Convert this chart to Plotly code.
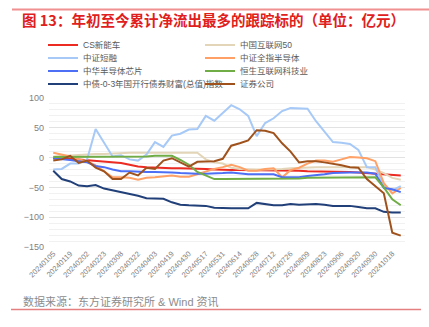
import plotly.graph_objects as go

# Weekly observation dates (every other one is labelled on the axis)
dates = [
    "20240105", "20240112", "20240119", "20240126", "20240202", "20240208",
    "20240223", "20240301", "20240308", "20240315", "20240322", "20240329",
    "20240403", "20240412", "20240419", "20240426", "20240430", "20240510",
    "20240517", "20240524", "20240531", "20240607", "20240614", "20240621",
    "20240628", "20240705", "20240712", "20240719", "20240726", "20240802",
    "20240809", "20240816", "20240823", "20240830", "20240906", "20240913",
    "20240920", "20240927", "20240930", "20241011", "20241018", "20241025",
]
tick_labels = dates[::2]

# Cumulative net flows since start of year (100 million CNY)
cs_new_energy_vehicle = [
    -1, -1, -2, -3, -4, -6, -7, -8, -9, -12, -15, -16, -17, -18,
    -18, -18, -18, -19, -19, -20, -21, -21, -21, -21, -21, -22, -22, -22,
    -22, -22, -23, -23, -23, -24, -24, -24, -25, -26, -27, -28, -29, -30,
]
china_internet_50 = [
    2, 3, 4, 5, 5, 6, 6, 7, 7, 8, 8, 8, 8, 8,
    8, 8, 8, 8, -3, -8, -10, -17, -19, -20, -20, -20, -20, -19,
    -18, -17, -16, -16, -16, -16, -15, -15, -15, -16, -20, -26, -34, -37,
]
csi_short_financing = [
    -20, -19, -10, -10, -3, 48, 25, 2, 4, -3, -5, 5, 26, 18,
    37, 40, 47, 48, 70, 62, 75, 88, 81, 70, 36, 58, 66, 78,
    83, 83, 82, 61, 44, 26, 25, 23, 13, -16, -16, -48, -55, -48,
]
csi_all_semiconductor = [
    8, 5, 2, -3, -6, -13, -23, -33, -33, -34, -37, -34, -33, -31,
    -30, -32, -32, -28, -23, -19, -16, -12, -16, -22, -22, -19, -18, -33,
    -21, -17, -10, -5, -5, -7, -3, 1, 0, -1, -6, -43, -60, -51,
]
china_semiconductor_chip = [
    -1, -2, -4, -6, -8, -14, -16, -20, -23, -23, -24, -24, -24, -24,
    -25, -26, -27, -27, -27, -27, -26, -25, -27, -28, -28, -28, -28, -33,
    -33, -33, -31, -30, -28, -26, -25, -25, -25, -25, -27, -51, -53, -58,
]
hs_internet_tech = [
    1, 1, 1, 1, 1, 1, 2, 2, 2, 2, 2, 2, 3, 3,
    3, -4, -12, -24, -30, -36, -36, -36, -36, -36, -36, -35, -35, -35,
    -35, -35, -34, -34, -34, -34, -34, -34, -33, -33, -33, -50, -70, -80,
]
cdb_bond_0_3y = [
    -22, -36, -40, -47, -48, -46, -52, -55, -58, -60, -64, -68, -69, -69,
    -75, -79, -80, -81, -81, -84, -85, -85, -85, -85, -76, -78, -80, -80,
    -78, -79, -78, -78, -79, -81, -81, -81, -83, -85, -85, -91, -92, -92,
]
securities_companies = [
    -5, -3, 3, -9, -5, -17, -23, -36, -36, -25, -30, -17, -19, -5,
    -1, -8, -15, -7, -6, -6, -2, 20, 24, 29, 46, 45, 41, 24,
    10, -8, -6, -6, -8, -10, -13, -16, -17, -36, -48, -60, -126, -131,
]

series = [
    ("CS新能车", cs_new_energy_vehicle, "#ec2b22", "legend"),
    ("中国互联网50", china_internet_50, "#e3d5b8", "legend"),
    ("中证短融", csi_short_financing, "#a6c9f7", "legend2"),
    ("中证全指半导体", csi_all_semiconductor, "#ffa066", "legend2"),
    ("中华半导体芯片", china_semiconductor_chip, "#4d6ff5", "legend3"),
    ("恒生互联网科技业", hs_internet_tech, "#70ad47", "legend3"),
    ("中债-0-3年国开行债券财富(总值)指数", cdb_bond_0_3y, "#213f78", "legend4"),
    ("证券公司", securities_companies, "#a0521d", "legend4"),
]

W, H = 429, 327
ML, MR, MT, MB = 49, 24, 98, 80
PW, PH = W - ML - MR, H - MT - MB

CJK = "Liberation Sans, Noto Sans CJK SC, sans-serif"


def px_x(x):
    return (x - ML) / PW


def px_y(y):
    return (H - MB - y) / PH


fig = go.Figure()
for name, values, color, leg in series:
    fig.add_trace(go.Scatter(
        x=dates, y=values, name=name, mode="lines",
        line=dict(color=color, width=2),
        legend=leg,
    ))

legend_common = dict(
    orientation="h", xref="container", yref="container",
    xanchor="left", yanchor="middle",
    bgcolor="rgba(0,0,0,0)", borderwidth=0,
    font=dict(family=CJK, size=8.5, color="#595959"),
    entrywidth=112, entrywidthmode="pixels", itemwidth=30,
    itemclick=False, itemdoubleclick=False,
)
row_y = [45, 58, 71, 84]
fig.update_layout(
    legend=dict(legend_common, x=43 / W, y=1 - row_y[0] / H),
    legend2=dict(legend_common, x=43 / W, y=1 - row_y[1] / H),
    legend3=dict(legend_common, x=43 / W, y=1 - row_y[2] / H),
    legend4=dict(legend_common, x=43 / W, y=1 - row_y[3] / H),
)

fig.update_layout(
    width=W, height=H,
    margin=dict(l=ML, r=MR, t=MT, b=MB, pad=0, autoexpand=False),
    paper_bgcolor="white", plot_bgcolor="white",
    font=dict(family=CJK, color="#7f7f7f"),
    title=dict(
        text="<b>图 13：年初至今累计净流出最多的跟踪标的（单位：亿元）</b>",
        xref="container", yref="container",
        x=22 / W, xanchor="left", y=1 - 21 / H, yanchor="middle",
        font=dict(family="Noto Sans CJK SC", size=14.5, color="#e0201c"),
    ),
    xaxis=dict(
        type="category", categoryorder="array", categoryarray=dates,
        range=[-0.5, len(dates) - 0.5],
        tickmode="array", tickvals=tick_labels, ticktext=tick_labels,
        tickangle=-45, tickfont=dict(size=7.5, color="#7f7f7f"),
        showgrid=False, showline=False, zeroline=False, ticks="",
        automargin=False,
    ),
    yaxis=dict(
        range=[-150, 100], tickvals=[100, 50, 0, -50, -100, -150],
        tickfont=dict(size=9, color="#7f7f7f"),
        showgrid=True, gridcolor="#e2e2e2", gridwidth=1,
        minor=dict(dtick=10, showgrid=True, gridcolor="#f1f1f1", gridwidth=1),
        zeroline=False, showline=False, ticks="", ticklabelstandoff=4,
        automargin=False,
    ),
    showlegend=True,
)

# Red rules framing the exhibit
fig.add_shape(type="line", xref="paper", yref="paper",
              x0=px_x(12), x1=px_x(429), y0=px_y(9.5), y1=px_y(9.5),
              line=dict(color="#f09090", width=2))
fig.add_shape(type="line", xref="paper", yref="paper",
              x0=px_x(11), x1=px_x(421), y0=px_y(309.5), y1=px_y(309.5),
              line=dict(color="#e58080", width=1.5))

fig.add_annotation(
    text="数据来源：东方证券研究所 & Wind 资讯",
    xref="paper", yref="paper", x=px_x(21), y=px_y(301.5),
    xanchor="left", yanchor="middle", showarrow=False,
    font=dict(family=CJK, size=11, color="#8c8c8c"),
)

fig.write_html("out.html")
